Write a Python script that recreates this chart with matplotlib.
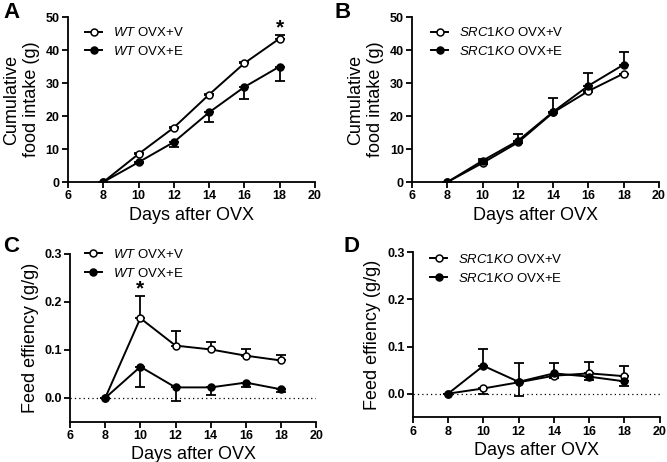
import matplotlib
matplotlib.use("Agg")
import matplotlib.pyplot as plt

plt.rcParams['font.family'] = ['Liberation Sans', 'DejaVu Sans']
plt.rcParams['mathtext.fontset'] = 'custom'
plt.rcParams['mathtext.it'] = 'Liberation Sans:italic'
plt.rcParams['mathtext.rm'] = 'Liberation Sans'

days = [8, 10, 12, 14, 16, 18]

# panel A - WT cumulative food intake
a_v = [0, 8.5, 16.5, 26.5, 36.0, 43.5]
a_v_up = [0, 0.3, 0.3, 0.3, 0.3, 1.0]
a_e = [0, 6.0, 12.1, 21.1, 28.8, 35.0]
a_e_dn = [0, 0.3, 1.5, 2.8, 3.6, 4.3]

# panel B - SRC1KO cumulative food intake
b_v = [0, 5.8, 12.0, 21.1, 27.6, 32.9]
b_v_dn = [0, 0.3, 0.3, 0.3, 0.4, 0.3]
b_e = [0, 6.5, 12.5, 21.3, 29.2, 35.6]
b_e_up = [0, 0.6, 2.0, 4.3, 3.9, 3.9]

# panel C - WT feed efficiency
c_v = [0, 0.166, 0.109, 0.101, 0.088, 0.078]
c_v_up = [0, 0.047, 0.030, 0.016, 0.013, 0.012]
c_e = [0, 0.065, 0.022, 0.022, 0.032, 0.018]
c_e_dn = [0, 0.042, 0.029, 0.015, 0.009, 0.006]

# panel D - SRC1KO feed efficiency
d_v = [0, 0.011, 0.024, 0.038, 0.043, 0.037]
d_v_up = [0, 0.0, 0.0, 0.0, 0.024, 0.022]
d_v_dn = [0, 0.012, 0.029, 0.005, 0.0, 0.0]
d_e = [0, 0.059, 0.025, 0.043, 0.036, 0.026]
d_e_up = [0, 0.036, 0.041, 0.021, 0.0, 0.0]
d_e_dn = [0, 0.0, 0.0, 0.009, 0.008, 0.009]

fig = plt.figure(figsize=(6.67, 4.62), dpi=100)
axA = fig.add_axes([0.102, 0.606, 0.370, 0.357])
axB = fig.add_axes([0.618, 0.606, 0.370, 0.357])
axC = fig.add_axes([0.105, 0.0866, 0.369, 0.364])
axD = fig.add_axes([0.619, 0.097, 0.370, 0.357])


def series(ax, y, lo, hi, filled):
    ax.errorbar(days, y, yerr=[lo, hi], fmt='none', ecolor='black',
                elinewidth=1.3, capsize=3.5, capthick=1.3, zorder=2)
    line, = ax.plot(days, y, color='black', lw=1.4, marker='o', markersize=5,
                    markerfacecolor='black' if filled else 'white',
                    markeredgecolor='black', markeredgewidth=1.1, zorder=3)
    return line


def style(ax, ylim, yticks, fmt):
    ax.set_xlim(6, 20)
    ax.set_xticks(range(6, 21, 2))
    ax.set_ylim(*ylim)
    ax.set_yticks(yticks)
    ax.set_yticklabels([fmt.format(t) for t in yticks])
    for s in ['top', 'right']:
        ax.spines[s].set_visible(False)
    for s in ['left', 'bottom']:
        ax.spines[s].set_linewidth(1.3)
    ax.tick_params(direction='out', width=1.3, length=4, labelsize=9, pad=2)
    for lab in ax.get_xticklabels() + ax.get_yticklabels():
        lab.set_fontweight('bold')
    ax.set_xlabel('Days after OVX', fontsize=13, labelpad=3)


def legend(ax, handles, geno, x, y):
    labels = [r'$\it{' + geno + '}$ OVX+V', r'$\it{' + geno + '}$ OVX+E']
    ax.legend(handles, labels, loc='upper left', bbox_to_anchor=(x, y),
              frameon=False, fontsize=9.5, handlelength=1.3, handletextpad=0.8,
              labelspacing=0.45, borderpad=0, borderaxespad=0)


hv = series(axA, a_v, [0] * 6, a_v_up, False)
he = series(axA, a_e, a_e_dn, [0] * 6, True)
style(axA, (0, 50), [0, 10, 20, 30, 40, 50], '{:g}')
axA.set_ylabel('Cumulative\nfood intake (g)', fontsize=13, labelpad=4)
legend(axA, [hv, he], 'WT', 0.07, 0.945)
axA.text(18, 46.8, '*', ha='center', va='center', fontsize=15, fontweight='bold')

hv = series(axB, b_v, b_v_dn, [0] * 6, False)
he = series(axB, b_e, [0] * 6, b_e_up, True)
style(axB, (0, 50), [0, 10, 20, 30, 40, 50], '{:g}')
axB.set_ylabel('Cumulative\nfood intake (g)', fontsize=13, labelpad=4)
legend(axB, [hv, he], 'SRC1KO', 0.077, 0.945)

for ax in (axC, axD):
    ax.axhline(0, color='black', lw=0.9, ls=(0, (1, 2.5)), zorder=1)

hv = series(axC, c_v, [0] * 6, c_v_up, False)
he = series(axC, c_e, c_e_dn, [0] * 6, True)
style(axC, (-0.05, 0.3), [0.0, 0.1, 0.2, 0.3], '{:.1f}')
axC.set_ylabel('Feed effiency (g/g)', fontsize=13, labelpad=4)
legend(axC, [hv, he], 'WT', 0.06, 1.035)
axC.text(10, 0.226, '*', ha='center', va='center', fontsize=15, fontweight='bold')

hv = series(axD, d_v, d_v_dn, d_v_up, False)
he = series(axD, d_e, d_e_dn, d_e_up, True)
style(axD, (-0.05, 0.3), [0.0, 0.1, 0.2, 0.3], '{:.1f}')
axD.set_ylabel('Feed effiency (g/g)', fontsize=13, labelpad=4)
legend(axD, [hv, he], 'SRC1KO', 0.07, 0.995)

for lab, x, y in [('A', 0.005, 0.995), ('B', 0.502, 0.995),
                  ('C', 0.005, 0.49), ('D', 0.515, 0.49)]:
    fig.text(x, y, lab, fontsize=16, fontweight='bold', va='top', ha='left')

fig.savefig('out.png', dpi=100)
